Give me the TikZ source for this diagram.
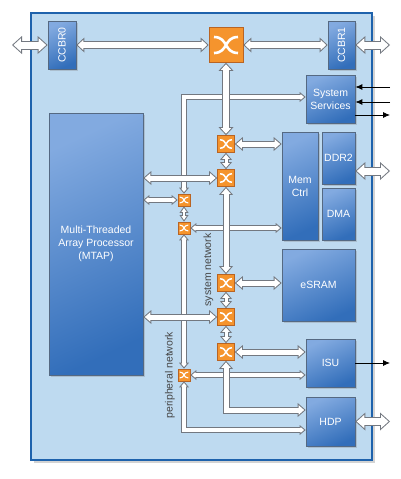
\documentclass[tikz,border=0pt]{standalone}
\usepackage{fontspec}
\setmainfont{Liberation Sans}
\usepackage{graphicx}
\usetikzlibrary{arrows.meta,shadows,calc}

\definecolor{bgblue}{RGB}{190,218,240}
\definecolor{chipborder}{RGB}{30,98,172}
\definecolor{blktop}{RGB}{130,170,224}
\definecolor{blkbot}{RGB}{50,110,186}
\definecolor{blkline}{RGB}{85,105,130}
\definecolor{swfill}{RGB}{245,148,45}
\definecolor{swline}{RGB}{185,100,35}
\definecolor{linegray}{RGB}{115,120,128}
\definecolor{netlabel}{RGB}{70,70,70}

\newcommand{\labfont}{\fontsize{10.5}{13}\selectfont}
\newcommand{\swX}[3]{%
  \draw[white, line width=#3]
    ([shift={(-#1pt,#2pt)}]path picture bounding box.center)
      .. controls ([shift={(0.2*#1pt,#2pt)}]path picture bounding box.center)
      and ([shift={(-0.2*#1pt,-#2pt)}]path picture bounding box.center)
      .. ([shift={(#1pt,-#2pt)}]path picture bounding box.center)
    ([shift={(-#1pt,-#2pt)}]path picture bounding box.center)
      .. controls ([shift={(0.2*#1pt,-#2pt)}]path picture bounding box.center)
      and ([shift={(-0.2*#1pt,#2pt)}]path picture bounding box.center)
      .. ([shift={(#1pt,#2pt)}]path picture bounding box.center);}
\newcommand{\harr}[2]{\draw[#1o] #2; \draw[#1i] #2;}

\tikzset{
  chipbox/.style={draw=chipborder, line width=2.5pt, fill=bgblue,
    drop shadow={shadow xshift=2.5pt, shadow yshift=-3pt, opacity=0.35}},
  blk/.style={draw=blkline, line width=0.7pt, top color=blktop, bottom color=blkbot,
    shading angle=25, text=white, font=\labfont, align=center, inner sep=0pt,
    drop shadow={shadow xshift=1.5pt, shadow yshift=-1.5pt, opacity=0.3}},
  swbase/.style={draw=swline, fill=swfill, line width=0.7pt, inner sep=0pt},
  swbig/.style={swbase, minimum width=34pt, minimum height=35pt, path picture={\swX{12}{8}{2.6pt}}},
  swsm/.style={swbase, minimum size=17pt, path picture={\swX{6}{4.2}{1.5pt}}},
  swp/.style={swbase, minimum size=12pt, path picture={\swX{4.3}{3}{1.1pt}}},
  netlab/.style={text=netlabel, font=\labfont, rotate=90, inner sep=0pt},
  thinarr/.style={draw=black, line width=0.8pt, -{Latex[length=7pt,width=6pt]}},
  harrow/.style n args={4}{line width=#1,
    {Triangle[width=#2,length=#3,line width=0pt]}-{Triangle[width=#2,length=#3,line width=0pt]},
    shorten <=#4, shorten >=#4},
  exto/.style={draw=linegray, harrow={9pt}{18pt}{10pt}{0pt}},
  exti/.style={draw=white, harrow={7pt}{13.5pt}{7.5pt}{1.49pt}},
  bigo/.style={draw=linegray, harrow={8pt}{15pt}{8pt}{0pt}},
  bigi/.style={draw=white, harrow={6pt}{10.4pt}{5.54pt}{1.46pt}},
  syso/.style={draw=linegray, harrow={7pt}{14pt}{8pt}{0pt}},
  sysi/.style={draw=white, harrow={5pt}{9.6pt}{5.48pt}{1.52pt}},
  minio/.style={draw=linegray, harrow={5pt}{12pt}{7pt}{0pt}},
  minii/.style={draw=white, harrow={3pt}{7.65pt}{4.46pt}{1.54pt}},
  pero/.style={draw=linegray, harrow={5.5pt}{10pt}{6pt}{0pt}},
  peri/.style={draw=white, harrow={3.5pt}{5.7pt}{3.44pt}{1.56pt}},
  pminio/.style={draw=linegray, harrow={3.5pt}{9pt}{6.5pt}{0pt}},
  pminii/.style={draw=white, harrow={1.5pt}{5.2pt}{3.74pt}{1.76pt}},
}

\begin{document}
\begin{tikzpicture}[x=1pt,y=-1pt]
\useasboundingbox (0,0) rectangle (400,479);

% chip outline
\node[chipbox, minimum width=341pt, minimum height=447pt] (chip) at (201.5,236.5) {};

% blocks
\node[blk, minimum width=28pt, minimum height=48pt] (CCBR0) at (62,45) {\rotatebox{90}{CCBR0}};
\node[blk, minimum width=27pt, minimum height=48pt] (CCBR1) at (341.5,45) {\rotatebox{90}{CCBR1}};
\node[blk, minimum width=49pt, minimum height=48pt] (SYS) at (330.5,99) {System\\Services};
\node[blk, minimum width=36pt, minimum height=108pt] (MEM) at (300,186) {Mem\\Ctrl};
\node[blk, minimum width=33pt, minimum height=52pt] (DDR2) at (338.5,158) {DDR2};
\node[blk, minimum width=33pt, minimum height=52pt] (DMA) at (338.5,214) {DMA};
\node[blk, minimum width=73pt, minimum height=72pt] (ESRAM) at (318.5,285) {eSRAM};
\node[blk, minimum width=49pt, minimum height=48pt] (ISU) at (330.5,363) {ISU};
\node[blk, minimum width=49pt, minimum height=49pt] (HDP) at (330.5,421.5) {HDP};
\node[blk, minimum width=94pt, minimum height=262pt] (MTAP) at (96,244) {Multi-Threaded\\Array Processor\\(MTAP)};

% switches
\node[swbig] (XB) at (226,45) {};
\node[swsm] (S1) at (226,144) {};
\node[swsm] (S2) at (226,178) {};
\node[swsm] (S3) at (226,283) {};
\node[swsm] (S4) at (226,317) {};
\node[swsm] (S5) at (226,352) {};
\node[swp] (P1) at (184,200) {};
\node[swp] (P2) at (184,228) {};
\node[swp] (P3) at (184,375) {};

% network labels
\node[netlab] (sysnet) at (208.5,270) {system network};
\node[netlab] (pernet) at (170,375) {peripheral network};

% free ends of external connections
\coordinate (ext0) at (12,45);
\coordinate (ext1) at (390,45);
\coordinate (ext2) at (390,171);
\coordinate (ext3) at (390,421.5);
\coordinate (si1) at (390,87);
\coordinate (si2) at (390,102);
\coordinate (so1) at (390,115);
\coordinate (iso) at (390,363);

% external hollow arrows
\harr{ext}{(ext0) -- (CCBR0)}
\harr{ext}{(CCBR1) -- (ext1)}
\harr{ext}{(ext2 -| DDR2.east) -- (ext2)}
\harr{ext}{(HDP) -- (ext3)}

% thin signal arrows
\draw[thinarr] (si1) -- (si1 -| SYS.east);
\draw[thinarr] (si2) -- (si2 -| SYS.east);
\draw[thinarr] (so1 -| SYS.east) -- (so1);
\draw[thinarr] (ISU) -- (iso);

% peripheral network
\harr{per}{([yshift=2pt]SYS.west) -| (P1)}
\harr{per}{(P1) -- (P1 -| MTAP.east)}
\harr{pmini}{(P1) -- (P2)}
\harr{per}{(P2) -- (P2 -| MEM.west)}
\harr{per}{(P2) -- (P3)}
\harr{per}{(P3) -- (P3 -| ISU.west)}
\harr{per}{(P3) |- ([yshift=-8.5pt]HDP.west)}

% system network
\harr{big}{(CCBR0) -- (XB)}
\harr{big}{(XB) -- (CCBR1)}
\harr{big}{(XB) -- (S1)}
\harr{sys}{(S1) -- (S1 -| MEM.west)}
\harr{mini}{(S1) -- (S2)}
\harr{sys}{(S2) -- (S2 -| MTAP.east)}
\harr{sys}{(S2) -- (S3)}
\harr{sys}{(S3) -- (S3 -| ESRAM.west)}
\harr{mini}{(S3) -- (S4)}
\harr{sys}{(S4) -- (S4 -| MTAP.east)}
\harr{mini}{(S4) -- (S5)}
\harr{sys}{(S5) -- (S5 -| ISU.west)}
\harr{sys}{(S5) |- ([yshift=11.5pt]HDP.west)}
\end{tikzpicture}
\end{document}
